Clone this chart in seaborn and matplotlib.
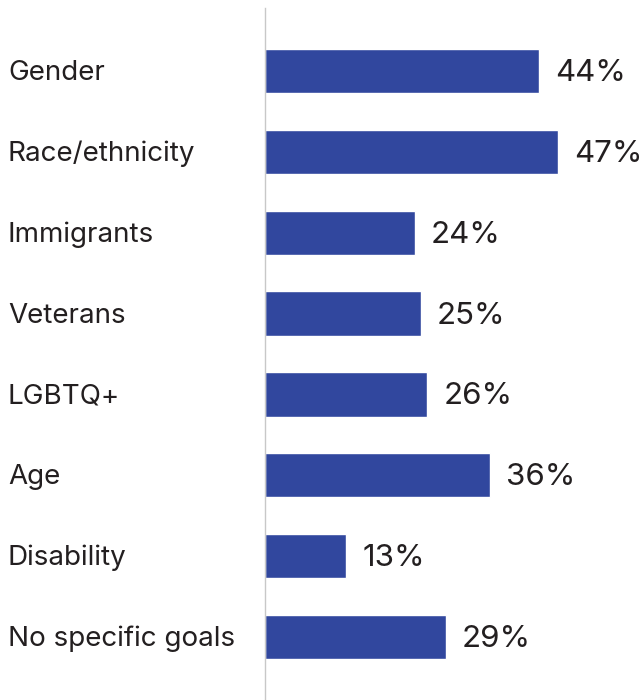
import matplotlib
matplotlib.use("Agg")
import matplotlib.pyplot as plt
import seaborn as sns
import pandas as pd

categories = ["Gender", "Race/ethnicity", "Immigrants", "Veterans",
              "LGBTQ+", "Age", "Disability", "No specific goals"]
values = [44, 47, 24, 25, 26, 36, 13, 29]

sns.set_theme(style="white")
plt.rcParams["font.family"] = ["Inter", "DejaVu Sans"]

df = pd.DataFrame({"group": categories, "share": values})

fig = plt.figure(figsize=(6.43, 7.0), dpi=100)
ax = fig.add_axes([265 / 643, 0.0, 378 / 643, 692 / 700])

sns.barplot(data=df, x="share", y="group", orient="h", color="#31479e",
            saturation=1, width=0.55, ax=ax)

text_color = "#231f20"
for bar, v in zip(ax.patches, values):
    ax.annotate(f"{v}%", xy=(bar.get_width(), bar.get_y() + bar.get_height() / 2),
                xytext=(16, -2), textcoords="offset pixels",
                va="center", ha="left", fontsize=22.5, color=text_color)

ax.set_xlim(0, 60.6)
ax.set_ylim(7.78, -0.78)
ax.set_xlabel("")
ax.set_ylabel("")
ax.set_xticks([])
ax.set_yticks(range(len(categories)))
ax.set_yticklabels([])
ax.tick_params(left=False)

for i, name in enumerate(categories):
    ax.annotate(name, xy=(0, i), xycoords=("figure fraction", "data"),
                xytext=(8, -2), textcoords="offset pixels",
                va="center", ha="left", fontsize=20, color=text_color)

for side in ["top", "right", "bottom"]:
    ax.spines[side].set_visible(False)
ax.spines["left"].set_color("#c8c8c8")
ax.spines["left"].set_linewidth(1.0)

fig.savefig("out.png", dpi=100, facecolor="white")
